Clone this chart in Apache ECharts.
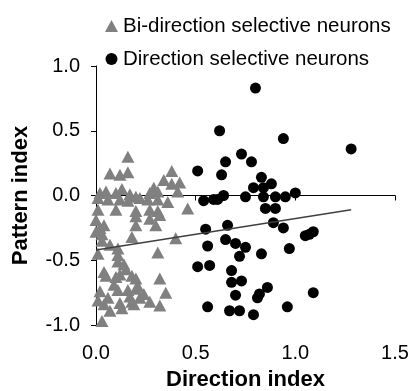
<!DOCTYPE html>
<html>
<head>
<meta charset="utf-8">
<script src="https://cdn.jsdelivr.net/npm/echarts@6/dist/echarts.min.js"></script>
<style>
  html, body { margin: 0; padding: 0; background: #fff; }
  #chart { width: 412px; height: 391px; }
</style>
</head>
<body>
<div id="chart"></div>
<script>
// direction selective neurons (black circles)
const dsX = [0.80, 0.62, 0.94, 1.28, 0.73, 0.78, 0.65, 0.51, 0.63, 0.83, 0.88, 0.79, 0.84, 1.00, 0.75, 0.84, 0.90, 0.95,
  0.54, 0.59, 0.61, 0.64, 0.85, 0.90, 0.55, 0.66, 0.89, 0.94, 1.05, 1.07, 1.09, 0.65, 0.70, 0.75, 0.56, 0.97, 0.72, 0.83,
  0.51, 0.57, 0.68, 0.68, 0.73, 0.86, 0.82, 0.81, 0.70, 1.09, 0.56, 0.67, 0.72, 0.79, 0.96]
const dsY = [0.83, 0.50, 0.44, 0.36, 0.32, 0.26, 0.26, 0.19, 0.16, 0.14, 0.09, 0.06, 0.06, 0.02, -0.01, -0.01, -0.01, -0.01,
  -0.04, -0.03, -0.03, 0.00, -0.10, -0.10, -0.26, -0.23, -0.21, -0.25, -0.31, -0.30, -0.28, -0.34, -0.37, -0.40, -0.39, -0.41, -0.47, -0.45,
  -0.55, -0.54, -0.58, -0.67, -0.66, -0.71, -0.76, -0.79, -0.77, -0.75, -0.86, -0.89, -0.89, -0.92, -0.86]

// bi-direction selective neurons (grey triangles)
const bdsX = [0.16, 0.07, 0.12, 0.16, 0.38, 0.34, 0.42, 0.38, 0.41, 0.29, 0.02, 0.05, 0.13, 0.10, 0.17, 0.20, 0.22, 0.27, 0.31,
  0.01, 0.06, 0.12, 0.16, 0.26, 0.31, 0.36, 0.01, 0.10, 0.20, 0.27, 0.31, 0.46, 0.00, 0.20, 0.27, 0.32, 0.04, 0.20, 0.30,
  0.00, 0.03, 0.18, 0.40, 0.03, 0.07, 0.11, 0.31, 0.01, 0.11, 0.11, 0.14, 0.15, 0.04, 0.05, 0.10, 0.12, 0.18, 0.20, 0.32,
  0.09, 0.21, 0.02, 0.11, 0.16, 0.24, 0.35, 0.06, 0.17, 0.22, 0.01, 0.04, 0.12, 0.19, 0.27, 0.32, 0.07, 0.13, 0.03,
  0.02, 0.18, 0.20]
const bdsY = [0.30, 0.17, 0.16, 0.18, 0.19, 0.12, 0.10, 0.09, 0.03, 0.06, 0.02, 0.03, 0.05, 0.02, 0.01, -0.01, -0.02, 0.02, 0.03,
  -0.02, -0.03, -0.03, -0.04, -0.03, -0.03, -0.05, -0.11, -0.11, -0.12, -0.11, -0.12, -0.10, -0.19, -0.16, -0.18, -0.15, -0.23, -0.23, -0.23,
  -0.28, -0.30, -0.32, -0.33, -0.35, -0.38, -0.41, -0.44, -0.45, -0.46, -0.51, -0.53, -0.57, -0.59, -0.62, -0.63, -0.61, -0.62, -0.64, -0.64,
  -0.69, -0.70, -0.74, -0.73, -0.73, -0.76, -0.75, -0.79, -0.78, -0.79, -0.81, -0.84, -0.83, -0.84, -0.82, -0.85, -0.89, -0.87, -0.97,
  -0.25, -0.82, -0.72]

// regression line end points
const fitX = [0, 1.28]
const fitY = [-0.42, -0.11]

const xTicks = { min: 0, max: 1.5, interval: 0.5 }
const yTicks = { min: -1, max: 1, interval: 0.5 }

const font = 'Arial, "Liberation Sans", sans-serif'
const zip = (xs, ys) => xs.map((x, i) => [x, ys[i]])

const chart = echarts.init(document.getElementById('chart'), null, { renderer: 'canvas' })
chart.setOption({
  animation: false,
  backgroundColor: '#fff',
  textStyle: { fontFamily: font },
  grid: { left: 96, right: 17, top: 66, bottom: 66, containLabel: false, outerBoundsMode: 'none' },
  legend: {
    orient: 'vertical',
    left: 100,
    top: 10,
    itemWidth: 13,
    itemHeight: 12,
    itemGap: 11,
    itemTextGap: 7,
    data: ['Bi-direction selective neurons', 'Direction selective neurons'],
    textStyle: { fontSize: 20.5, color: '#000', fontFamily: font, lineHeight: 22 },
  },
  xAxis: {
    type: 'value',
    ...xTicks,
    name: 'Direction index',
    nameLocation: 'middle',
    nameGap: 44,
    nameTextStyle: { fontSize: 22, fontWeight: 'bold', color: '#000', fontFamily: font },
    axisLine: { lineStyle: { color: '#000', width: 1 } },
    axisTick: { show: true, length: 5, lineStyle: { color: '#000' } },
    axisLabel: { fontSize: 20, color: '#000', margin: 18, formatter: (v) => v.toFixed(1) },
    splitLine: { show: false },
  },
  yAxis: {
    type: 'value',
    ...yTicks,
    name: 'Pattern index',
    nameLocation: 'middle',
    nameGap: 64,
    nameTextStyle: { fontSize: 22, fontWeight: 'bold', color: '#000', fontFamily: font },
    axisLine: { show: true, lineStyle: { color: '#000', width: 1 } },
    axisTick: { show: true, length: 5, lineStyle: { color: '#000' } },
    axisLabel: { fontSize: 20, color: '#000', margin: 16, formatter: (v) => v.toFixed(1) },
    splitLine: { show: false },
  },
  series: [
    {
      name: 'Bi-direction selective neurons',
      type: 'scatter',
      symbol: 'triangle',
      symbolSize: [13, 12],
      itemStyle: { color: '#808080', opacity: 1 },
      data: zip(bdsX, bdsY),
      z: 2,
    },
    {
      name: 'Direction selective neurons',
      type: 'scatter',
      symbol: 'circle',
      symbolSize: 11,
      itemStyle: { color: '#000', opacity: 1 },
      data: zip(dsX, dsY),
      z: 3,
    },
    {
      name: 'fit',
      type: 'line',
      symbol: 'none',
      data: zip(fitX, fitY),
      lineStyle: { color: '#404040', width: 1.5 },
      silent: true,
      z: 4,
    },
  ],
})
</script>
</body>
</html>
